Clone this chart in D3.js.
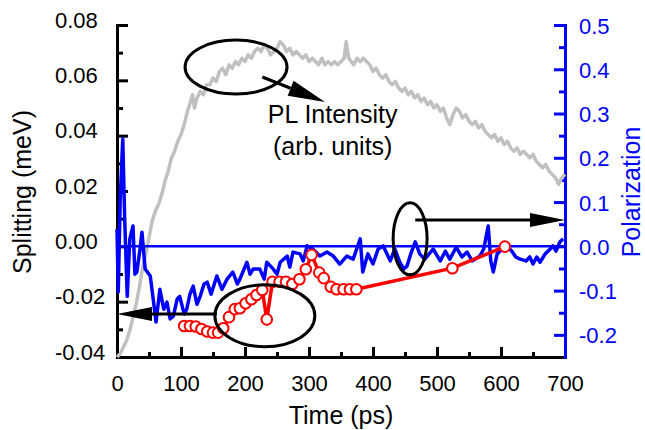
<!DOCTYPE html>
<html>
<head>
<meta charset="utf-8">
<script src="https://cdn.jsdelivr.net/npm/d3@7"></script>
<style>
  body { margin: 0; background: #fff; }
  text { font-family: "Liberation Sans", Arial, sans-serif; }
</style>
</head>
<body>
<script>
const WIDTH = 645;
const HEIGHT = 430;
const FRAME = { left: 117, right: 565, top: 25, bottom: 357 };

// tick labels
const timeTicks = [0, 100, 200, 300, 400, 500, 600, 700];
const timeMinor = [50, 150, 250, 350, 450, 550, 650];
const splitTicks = [-0.04, -0.02, 0, 0.02, 0.04, 0.06, 0.08];
const splitMinor = [-0.03, -0.01, 0.01, 0.03, 0.05, 0.07];
const polTicks = [-0.2, -0.1, 0, 0.1, 0.2, 0.3, 0.4, 0.5];
const polMinor = [-0.15, -0.05, 0.05, 0.15, 0.25, 0.35, 0.45];

// PL intensity (arb. units, normalised to frame)
const plTime = [0,5,10,15,20,25,30,35,40,45,
  50,55,60,65,70,75,80,85,90,95,
  100,105,110,115,118,121,125,130,135,140,
  145,150,155,160,165,170,175,180,185,190,
  195,200,205,210,215,220,225,230,235,240,
  245,250,255,260,265,270,275,280,285,290,
  295,300,305,310,315,320,325,330,335,340,
  345,350,355,358,362,366,370,375,380,385,
  390,395,400,405,410,415,420,425,430,435,
  440,445,450,455,460,465,470,475,480,485,
  490,495,500,505,510,515,520,525,530,535,
  540,545,550,555,560,565,570,575,580,585,
  590,595,600,605,610,615,620,625,630,635,
  640,645,650,655,660,665,670,675,680,685,
  690,695,700];
const plIntensity = [0.00,0.01,0.03,0.05,0.08,0.12,0.16,0.21,0.27,0.31,
  0.36,0.41,0.44,0.46,0.49,0.53,0.56,0.60,0.62,0.65,
  0.67,0.70,0.74,0.77,0.79,0.75,0.78,0.80,0.79,0.82,
  0.82,0.84,0.83,0.86,0.87,0.85,0.88,0.87,0.89,0.88,
  0.90,0.89,0.91,0.90,0.92,0.93,0.92,0.94,0.93,0.91,
  0.92,0.93,0.95,0.94,0.92,0.93,0.91,0.92,0.91,0.90,
  0.91,0.89,0.90,0.89,0.88,0.90,0.88,0.89,0.88,0.89,
  0.88,0.89,0.90,0.95,0.90,0.89,0.88,0.90,0.89,0.90,
  0.89,0.88,0.86,0.87,0.85,0.84,0.85,0.83,0.82,0.83,
  0.81,0.80,0.81,0.79,0.80,0.78,0.79,0.77,0.78,0.76,
  0.77,0.75,0.76,0.74,0.75,0.72,0.70,0.73,0.75,0.74,
  0.72,0.73,0.71,0.70,0.71,0.69,0.70,0.68,0.67,0.66,
  0.67,0.65,0.66,0.64,0.65,0.63,0.62,0.63,0.61,0.62,
  0.61,0.60,0.61,0.59,0.58,0.57,0.58,0.56,0.55,0.54,
  0.52,0.54,0.55];

// polarization (right axis)
const polTime = [0,2,5,9,12,16,20,25,28,31,36,39,44,52,56,61,67,73,78,83,
  88,94,98,105,109,114,119,125,130,136,141,147,156,164,172,181,188,192,203,208,
  213,223,230,234,244,250,255,266,270,275,286,291,297,306,317,328,338,348,359,369,
  380,384,392,400,408,416,427,434,442,448,453,459,466,473,481,494,505,513,520,530,
  539,547,555,567,573,580,584,588,594,602,609,617,623,630,639,645,650,656,661,669,
  677,681,686,692,697];
const polValue = [0.039,-0.103,0.107,0.243,0.062,-0.113,0.017,0.046,-0.063,-0.058,
  -0.006,0.032,-0.051,-0.067,-0.113,-0.171,-0.097,-0.142,-0.126,-0.164,
  -0.158,-0.119,-0.113,-0.153,-0.142,-0.108,-0.090,-0.131,-0.113,-0.085,
  -0.081,-0.108,-0.067,-0.097,-0.074,-0.058,-0.085,-0.074,-0.036,-0.063,
  -0.051,-0.051,-0.074,-0.036,-0.051,-0.063,-0.036,-0.022,-0.047,-0.013,
  -0.017,-0.033,0.001,-0.006,-0.022,-0.013,-0.022,-0.040,-0.022,-0.029,
  0.017,-0.058,-0.017,-0.040,-0.006,0.001,-0.033,-0.006,-0.036,-0.051,
  -0.045,-0.017,0.010,-0.017,-0.029,-0.006,-0.033,-0.011,-0.029,-0.002,
  -0.024,-0.013,-0.033,-0.022,-0.006,0.046,-0.033,-0.058,-0.017,-0.006,
  0.001,-0.011,-0.024,-0.029,-0.033,-0.024,-0.040,-0.024,-0.036,-0.017,
  -0.006,0.001,-0.011,0.010,0.017];

// splitting (left axis, meV)
const splitTime = [105,114,123,132,141,150,158,166,175,184,192,201,210,218,227,234,
  243,254,264,274,285,295,304,316,323,334,343,354,364,374,524,606];
const splitValue = [-0.0288,-0.0288,-0.0290,-0.0299,-0.0308,-0.0312,-0.0312,-0.0296,
  -0.0256,-0.0227,-0.0224,-0.0206,-0.0191,-0.0176,-0.0158,-0.0264,
  -0.0128,-0.0128,-0.0128,-0.0136,-0.0119,-0.0083,-0.0031,-0.0095,
  -0.0115,-0.0146,-0.0155,-0.0155,-0.0155,-0.0155,-0.0079,-0.0001];

const svg = d3.select('body').append('svg')
  .attr('width', WIDTH)
  .attr('height', HEIGHT);

const x = d3.scaleLinear().domain([0, 700]).range([FRAME.left, FRAME.right]);
const yL = d3.scaleLinear().domain([-0.04, 0.08]).range([FRAME.bottom, FRAME.top]);
const yR = d3.scaleLinear().domain([-0.25, 0.5]).range([FRAME.bottom, FRAME.top]);
const yPL = d3.scaleLinear().domain([0, 1]).range([FRAME.bottom, FRAME.top]);

function styleAxis(g, color) {
  g.selectAll('path.domain').attr('stroke', color).attr('stroke-width', 3)
   .attr('stroke-linecap', 'square');
  g.selectAll('.tick line').attr('stroke', color).attr('stroke-width', 3);
  g.selectAll('.tick text').attr('fill', color).attr('font-size', 22)
   .attr('font-family', '"Liberation Sans", Arial, sans-serif');
}

// bottom axis
const gx = svg.append('g').attr('transform', `translate(0, ${FRAME.bottom})`);
gx.call(d3.axisBottom(x).tickValues(timeMinor).tickSize(-5).tickSizeOuter(0).tickFormat(''));
gx.append('g').call(d3.axisBottom(x).tickValues(timeTicks).tickSize(-10).tickSizeOuter(0));
styleAxis(gx, '#000');
gx.selectAll('.tick text').attr('y', 34).attr('dy', null);

// left axis
const gl = svg.append('g').attr('transform', `translate(${FRAME.left}, 0)`);
gl.call(d3.axisLeft(yL).tickValues(splitMinor).tickSize(-6).tickSizeOuter(0).tickFormat(''));
gl.append('g').call(d3.axisLeft(yL).tickValues(splitTicks).tickSize(-11).tickSizeOuter(0)
  .tickFormat(d => d.toFixed(2)));
styleAxis(gl, '#000');
gl.selectAll('.tick text').attr('text-anchor', 'start').attr('x', 55 - FRAME.left)
  .attr('y', 2).attr('dy', null);

// right axis
const gr = svg.append('g').attr('transform', `translate(${FRAME.right}, 0)`);
gr.call(d3.axisRight(yR).tickValues(polMinor).tickSize(-6).tickSizeOuter(0).tickFormat(''));
gr.append('g').call(d3.axisRight(yR).tickValues(polTicks).tickSize(-11).tickSizeOuter(0)
  .tickFormat(d => d.toFixed(1)));
styleAxis(gr, '#0000ff');
gr.selectAll('.tick text').attr('text-anchor', 'start').attr('x', 14)
  .attr('y', 8).attr('dy', null);

// axis titles
svg.append('text')
  .attr('x', (FRAME.left + FRAME.right) / 2).attr('y', 424)
  .attr('text-anchor', 'middle').attr('font-size', 25)
  .text('Time (ps)');
svg.append('text')
  .attr('transform', 'translate(31, 192) rotate(-90)')
  .attr('text-anchor', 'middle').attr('font-size', 25)
  .text('Splitting (meV)');
svg.append('text')
  .attr('transform', 'translate(640, 192) rotate(-90)')
  .attr('text-anchor', 'middle').attr('font-size', 25).attr('fill', '#0000ff')
  .text('Polarization');

// PL intensity
const plData = plTime.map((t, i) => [t, plIntensity[i]]);
svg.append('path')
  .datum(plData)
  .attr('fill', 'none').attr('stroke', '#c0c0c0').attr('stroke-width', 3.5)
  .attr('stroke-linejoin', 'round')
  .attr('d', d3.line().x(d => x(d[0])).y(d => yPL(d[1])));

// polarization zero line + curve
svg.append('line')
  .attr('x1', x(0)).attr('x2', x(700))
  .attr('y1', yR(0)).attr('y2', yR(0))
  .attr('stroke', '#0000ff').attr('stroke-width', 2.5);

const polData = polTime.map((t, i) => [t, polValue[i]]);
svg.append('path')
  .datum(polData)
  .attr('fill', 'none').attr('stroke', '#0000ff').attr('stroke-width', 3.5)
  .attr('stroke-linejoin', 'round')
  .attr('d', d3.line().x(d => x(d[0])).y(d => yR(d[1])));

// splitting line + open circles
const splitData = splitTime.map((t, i) => [t, splitValue[i]]);
svg.append('path')
  .datum(splitData)
  .attr('fill', 'none').attr('stroke', '#ff0000').attr('stroke-width', 3.5)
  .attr('d', d3.line().x(d => x(d[0])).y(d => yL(d[1])));
svg.append('g').selectAll('circle')
  .data(splitData)
  .join('circle')
  .attr('cx', d => x(d[0])).attr('cy', d => yL(d[1]))
  .attr('r', 5.3)
  .attr('fill', '#fff').attr('stroke', '#ff0000').attr('stroke-width', 2);

// annotations (positions in time / splitting units)
const notes = svg.append('g').attr('class', 'notes');

function ellipse(t, v, rx, ry) {
  notes.append('ellipse')
    .attr('cx', x(t)).attr('cy', yL(v)).attr('rx', rx).attr('ry', ry)
    .attr('fill', 'none').attr('stroke', '#000').attr('stroke-width', 3);
}

function arrow(t1, v1, t2, v2, len = 35, half = 7) {
  const x1 = x(t1), y1 = yL(v1), x2 = x(t2), y2 = yL(v2);
  const a = Math.atan2(y2 - y1, x2 - x1);
  const bx = x2 - len * Math.cos(a), by = y2 - len * Math.sin(a);
  const px = -Math.sin(a) * half, py = Math.cos(a) * half;
  notes.append('line')
    .attr('x1', x1).attr('y1', y1).attr('x2', bx).attr('y2', by)
    .attr('stroke', '#000').attr('stroke-width', 3);
  notes.append('polygon')
    .attr('points', `${x2},${y2} ${bx + px},${by + py} ${bx - px},${by - py}`)
    .attr('fill', '#000');
}

ellipse(186, 0.0648, 51, 27);
arrow(227, 0.0612, 325, 0.0522, 37, 8);
notes.append('text')
  .attr('x', x(337)).attr('y', 123)
  .attr('text-anchor', 'middle').attr('font-size', 25)
  .text('PL Intensity');
notes.append('text')
  .attr('x', x(337)).attr('y', 155)
  .attr('text-anchor', 'middle').attr('font-size', 25)
  .text('(arb. units)');

ellipse(231, -0.0251, 50, 31);
arrow(156, -0.0245, 0, -0.0245);

ellipse(458, 0.0027, 17, 36);
arrow(466, 0.0095, 700, 0.0095);
</script>
</body>
</html>
